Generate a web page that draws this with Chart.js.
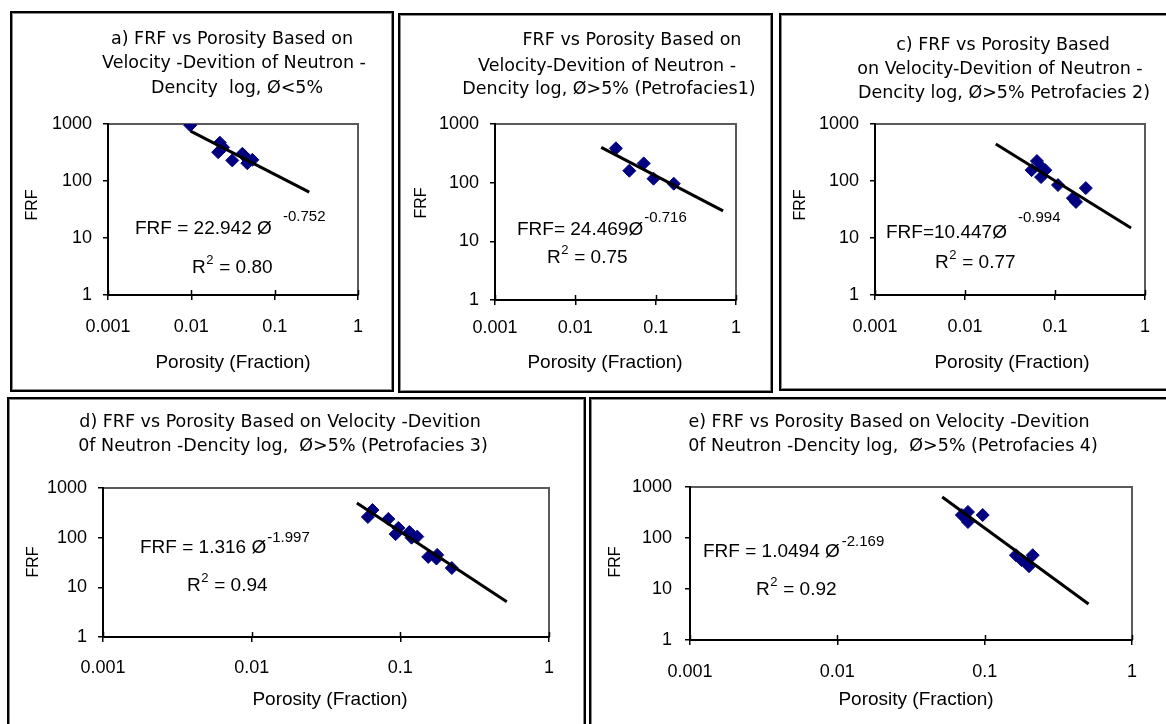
<!DOCTYPE html>
<html><head><meta charset="utf-8">
<script src="https://cdn.jsdelivr.net/npm/chart.js@4.4.1/dist/chart.umd.min.js"></script>
<style>
html,body{margin:0;padding:0;background:#fff;}
body{width:1166px;height:724px;overflow:hidden;position:relative;}
canvas{position:absolute;}
.bd{position:absolute;box-sizing:border-box;border:2px solid #000;box-shadow:inset 0 0 0 1px #8a8a8a;pointer-events:none;}
</style></head>
<body>
<script>
// ---- tick labels ----
const xTickValues = [0.001, 0.01, 0.1, 1];
const xTickLabels = ["0.001", "0.01", "0.1", "1"];
const yTickValues = [1, 10, 100, 1000];
const yTickLabels = ["1", "10", "100", "1000"];

// ---- panel a ----
const aPorosity = [0.0097, 0.021, 0.022, 0.024, 0.031, 0.041, 0.044, 0.047, 0.054];
const aFRF      = [950, 320, 470, 390, 230, 300, 270, 205, 235];
const aTrendPorosity = [0.0098, 0.26];
const aTrendFRF      = [750, 64];

// ---- panel b ----
const bPorosity = [0.032, 0.047, 0.071, 0.094, 0.168];
const bFRF      = [385, 160, 213, 117, 96];
const bTrendPorosity = [0.021, 0.69];
const bTrendFRF      = [400, 33];

// ---- panel c ----
const cPorosity = [0.055, 0.063, 0.07, 0.078, 0.07, 0.108, 0.158, 0.171, 0.22];
const cFRF      = [155, 224, 177, 155, 117, 85, 50, 43, 75];
const cTrendPorosity = [0.022, 0.70];
const cTrendFRF      = [445, 15];

// ---- panel d ----
const dPorosity = [0.0605, 0.065, 0.083, 0.097, 0.093, 0.115, 0.119, 0.13, 0.154, 0.177, 0.175, 0.222];
const dFRF      = [261, 360, 238, 157, 118, 130, 100, 105, 41, 45, 38, 24.5];
const dTrendPorosity = [0.051, 0.52];
const dTrendFRF      = [500, 5.1];

// ---- panel e ----
const ePorosity = [0.07, 0.077, 0.077, 0.075, 0.097, 0.163, 0.178, 0.194, 0.2, 0.212];
const eFRF      = [282, 324, 206, 240, 282, 46, 37, 32, 28, 46];
const eTrendPorosity = [0.0515, 0.507];
const eTrendFRF      = [636, 5.1];

// ---- layout / text per panel ----
const panels = [
  {box:[10,11,394,392], plot:[108,124,358,295], xPad:16, yPad:11,
   pts:[aPorosity,aFRF], trend:[aTrendPorosity,aTrendFRF],
   title:[["a) FRF vs Porosity Based on",232,39],["Velocity -Devition of Neutron -",234,63],["Dencity  log, \u00D8<5%",237,88]],
   eq:{main:"FRF = 22.942 \u00D8",x:135,y:229,sup:"-0.752",sx:283,sy:217,gap:3},
   r2:{x:192,y:268,val:"0.80"}, yTitle:[33,205], xTitle:[233,363]},
  {box:[398,13,773,393], plot:[495,124,736,300], xPad:12, yPad:11,
   pts:[bPorosity,bFRF], trend:[bTrendPorosity,bTrendFRF],
   title:[["FRF vs Porosity Based on",632,40],["Velocity-Devition of Neutron -",607,66],["Dencity log, \u00D8>5% (Petrofacies1)",609,89]],
   eq:{main:"FRF= 24.469\u00D8",x:517,y:230,sup:"-0.716",sx:0,sy:218,gap:1},
   r2:{x:547,y:258,val:"0.75"}, yTitle:[422,203], xTitle:[605,363]},
  {box:[779,13,1172,391], plot:[875,124,1145,295], xPad:16, yPad:11,
   pts:[cPorosity,cFRF], trend:[cTrendPorosity,cTrendFRF],
   title:[["c) FRF vs Porosity Based",1003,45],["on Velocity-Devition of Neutron -",1000,69],["Dencity log, \u00D8>5% Petrofacies 2)",1004,93]],
   eq:{main:"FRF=10.447\u00D8",x:886,y:233,sup:"-0.994",sx:1018,sy:218,gap:6},
   r2:{x:935,y:263,val:"0.77"}, yTitle:[801,205], xTitle:[1012,363]},
  {box:[7,397,586,730], plot:[103,488,549,637], xPad:15, yPad:11,
   pts:[dPorosity,dFRF], trend:[dTrendPorosity,dTrendFRF],
   title:[["d) FRF vs Porosity Based on Velocity -Devition",280,422],["0f Neutron -Dencity log,  \u00D8>5% (Petrofacies 3)",283,446]],
   eq:{main:"FRF = 1.316 \u00D8",x:140,y:548,sup:"-1.997",sx:0,sy:538,gap:1},
   r2:{x:187,y:586,val:"0.94"}, yTitle:[34,562], xTitle:[330,700]},
  {box:[589,397,1172,730], plot:[690,487,1132,640], xPad:16, yPad:13,
   pts:[ePorosity,eFRF], trend:[eTrendPorosity,eTrendFRF],
   title:[["e) FRF vs Porosity Based on Velocity -Devition",889,422],["0f Neutron -Dencity log,  \u00D8>5% (Petrofacies 4)",893,446]],
   eq:{main:"FRF = 1.0494 \u00D8",x:703,y:552,sup:"-2.169",sx:0,sy:542,gap:2},
   r2:{x:756,y:590,val:"0.92"}, yTitle:[616,562], xTitle:[916,700]}
];

const TICK_FONT = {family:'"Liberation Sans", Arial, sans-serif', size:18};
const TITLE_FONT = '17.5px "DejaVu Sans", sans-serif';
const EQ_FONT = '19px "Liberation Sans", Arial, sans-serif';
const SUP_FONT = '15px "Liberation Sans", Arial, sans-serif';
const R2SUP_FONT = '13px "Liberation Sans", Arial, sans-serif';
const YT_FONT = '16px "Liberation Sans", Arial, sans-serif';
const XT_FONT = '19px "Liberation Sans", Arial, sans-serif';

function makePlugin(p){
  const L=p.box[0], T=p.box[1];
  return {
    id:'panelDeco',
    beforeDraw(chart){
      const ctx=chart.ctx, a=chart.chartArea;
      ctx.save();
      ctx.strokeStyle='#5a5a5a'; ctx.lineWidth=2;
      ctx.strokeRect(a.left,a.top,a.right-a.left,a.bottom-a.top);
      ctx.restore();
    },
    afterDraw(chart){
      const ctx=chart.ctx, a=chart.chartArea, xs=chart.scales.x;
      ctx.save();
      // inner half of x tick marks
      ctx.strokeStyle='#000'; ctx.lineWidth=1.5;
      xTickValues.forEach(v=>{
        const px=Math.round(xs.getPixelForValue(v))+0.5;
        ctx.beginPath(); ctx.moveTo(px,a.bottom); ctx.lineTo(px,a.bottom-5); ctx.stroke();
      });
      ctx.fillStyle='#000';
      ctx.textBaseline='middle';
      // title
      ctx.font=TITLE_FONT; ctx.textAlign='center';
      p.title.forEach(t=>ctx.fillText(t[0], t[1]-L, t[2]-T));
      // equation
      ctx.textAlign='left';
      ctx.font=EQ_FONT; ctx.fillText(p.eq.main, p.eq.x-L, p.eq.y-T);
      const mEnd=p.eq.x+ctx.measureText(p.eq.main).width+p.eq.gap;
      const sx=Math.max(p.eq.sx, mEnd);
      ctx.font=SUP_FONT; ctx.fillText(p.eq.sup, sx-L, p.eq.sy-T);
      // R^2
      ctx.font=EQ_FONT;
      const rx=p.r2.x-L, ry=p.r2.y-T;
      ctx.fillText("R", rx, ry);
      const wR=ctx.measureText("R").width;
      ctx.font=R2SUP_FONT; ctx.fillText("2", rx+wR+0.5, ry-8);
      const w2=ctx.measureText("2").width;
      ctx.font=EQ_FONT; ctx.fillText(" = "+p.r2.val, rx+wR+w2+1, ry);
      // axis titles
      ctx.textAlign='center';
      ctx.font=XT_FONT; ctx.fillText("Porosity (Fraction)", p.xTitle[0]-L, p.xTitle[1]-T);
      ctx.save();
      ctx.translate(p.yTitle[0]-L, p.yTitle[1]-T); ctx.rotate(-Math.PI/2);
      ctx.font=YT_FONT; ctx.fillText("FRF",0,0);
      ctx.restore();
      ctx.restore();
    }
  };
}

panels.forEach(p=>{
  const [L,T,R,B]=p.box, [pl,pt,pr,pb]=p.plot;
  const W=R-L, H=B-T;
  const cv=document.createElement('canvas');
  cv.width=W; cv.height=H;
  cv.style.left=L+'px'; cv.style.top=T+'px';
  cv.style.width=W+'px'; cv.style.height=H+'px';
  document.body.appendChild(cv);
  const bd=document.createElement('div');
  bd.className='bd';
  bd.style.left=L+'px'; bd.style.top=T+'px'; bd.style.width=W+'px'; bd.style.height=H+'px';
  document.body.appendChild(bd);

  const pts=p.pts[0].map((x,i)=>({x:x,y:p.pts[1][i]}));
  const tr=p.trend[0].map((x,i)=>({x:x,y:p.trend[1][i]}));
  new Chart(cv,{
    type:'scatter',
    data:{datasets:[
      {data:tr, showLine:true, borderColor:'#000', borderWidth:3, pointRadius:0, fill:false},
      {data:pts, showLine:false, pointStyle:'rectRot', pointRadius:6.5, pointHoverRadius:6.5,
       backgroundColor:'#000080', borderColor:'#000080', borderWidth:1}
    ]},
    plugins:[makePlugin(p)],
    options:{
      responsive:false, animation:false, events:[],
      devicePixelRatio:1,
      layout:{padding:{left:0, top:pt-T, right:R-pr, bottom:0}},
      plugins:{legend:{display:false}, tooltip:{enabled:false}, title:{display:false}},
      scales:{
        x:{type:'logarithmic', min:0.001, max:1, position:'bottom',
          afterBuildTicks:s=>{s.ticks=xTickValues.map(v=>({value:v}));},
          afterFit:s=>{s.height=B-pb; s.paddingLeft=0; s.paddingRight=0;},
          ticks:{autoSkip:false, maxRotation:0, minRotation:0, padding:p.xPad, color:'#000', font:TICK_FONT,
                 callback:(v,i)=>xTickLabels[i]},
          grid:{display:true, drawOnChartArea:false, drawTicks:true, tickLength:5, color:'#000', lineWidth:1.5},
          border:{display:true, color:'#000', width:2}
        },
        y:{type:'logarithmic', min:1, max:1000, position:'left',
          afterBuildTicks:s=>{s.ticks=yTickValues.map(v=>({value:v}));},
          afterFit:s=>{s.width=pl-L; s.paddingTop=0; s.paddingBottom=0;},
          ticks:{autoSkip:false, padding:p.yPad, color:'#000', font:TICK_FONT,
                 callback:(v,i)=>yTickLabels[i]},
          grid:{display:true, drawOnChartArea:false, drawTicks:true, tickLength:5, color:'#000', lineWidth:1.5},
          border:{display:true, color:'#000', width:2}
        }
      }
    }
  });
});
</script>
</body></html>
